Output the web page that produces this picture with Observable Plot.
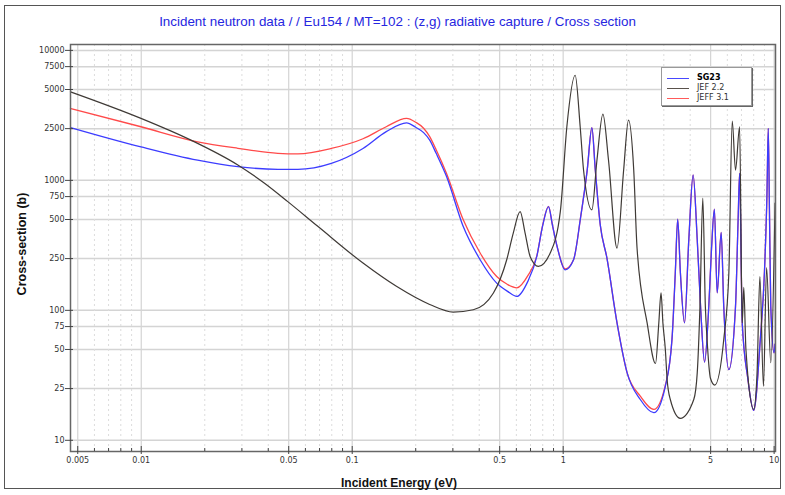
<!DOCTYPE html>
<html>
<head>
<meta charset="utf-8">
<script src="https://cdn.jsdelivr.net/npm/d3@7"></script>
<script src="https://cdn.jsdelivr.net/npm/@observablehq/plot@0.6"></script>
<style>
  html, body { margin: 0; padding: 0; background: #fff; }
  #wrap { position: relative; width: 785px; height: 495px; overflow: hidden; background: #fff; }
  #border { position: absolute; left: 4px; top: 5px; width: 777px; height: 484px; border: 1px solid #555; box-sizing: border-box; }
  #title { position: absolute; left: 0; width: 795px; top: 14px; text-align: center; font-family: "Liberation Sans", Arial, sans-serif; font-size: 13.4px; color: #2626e0; }
  #xlabel { position: absolute; left: 0; width: 798px; top: 476px; text-align: center; font-family: "Liberation Sans", Arial, sans-serif; font-weight: bold; font-size: 12px; color: #111; }
  #ylabel { position: absolute; left: 22px; top: 244px; transform: translate(-50%, -50%) rotate(-90deg); white-space: nowrap; font-family: "Liberation Sans", Arial, sans-serif; font-weight: bold; font-size: 12.5px; color: #111; }
  #legend { position: absolute; left: 661px; top: 67px; width: 91px; height: 39px; border: 1px solid #999; box-shadow: 1px 1px 0 #666; background: #fff; box-sizing: border-box; font-family: "DejaVu Sans", sans-serif; font-size: 8px; }
  .row { position: absolute; left: 0; height: 10px; }
  .sw { position: absolute; left: 5px; width: 22px; top: 5px; height: 0; border-top: 1.5px solid; }
  .lt { position: absolute; left: 35px; top: 0; line-height: 10px; color: #333; white-space: nowrap; }
</style>
</head>
<body>
<div id="wrap">
  <div id="border"></div>
  <div id="title">Incident neutron data / / Eu154 / MT=102 : (z,g) radiative capture / Cross section</div>
  <div id="chart"></div>
  <div id="xlabel">Incident Energy (eV)</div>
  <div id="ylabel">Cross-section (b)</div>
  <div id="legend">
    <div class="row" style="top:5px"><div class="sw" style="border-color:#4848ff"></div><div class="lt" style="font-weight:bold;color:#000">SG23</div></div>
    <div class="row" style="top:15px"><div class="sw" style="border-color:#5a524c"></div><div class="lt">JEF 2.2</div></div>
    <div class="row" style="top:25px"><div class="sw" style="border-color:#ff5a5a"></div><div class="lt">JEFF 3.1</div></div>
  </div>
</div>
<script>
// ---- Tick values ----
const xMajor = [0.005, 0.01, 0.05, 0.1, 0.5, 1, 5, 10];
const xMinor = [0.006, 0.007, 0.008, 0.009, 0.02, 0.03, 0.04, 0.06, 0.07, 0.08, 0.09,
                0.2, 0.3, 0.4, 0.6, 0.7, 0.8, 0.9, 2, 3, 4, 6, 7, 8, 9];
const yTicks = [10, 25, 50, 75, 100, 250, 500, 750, 1000, 2500, 5000, 7500, 10000];

// ---- SG23 (blue) ----
const sg23E = [0.00462, 0.00997, 0.0185, 0.0287, 0.0444, 0.0553, 0.0796, 0.1125, 0.145, 0.181, 0.2, 0.218, 0.233, 0.25, 0.28, 0.336,
  0.404, 0.484, 0.545, 0.603, 0.68, 0.75, 0.80, 0.852, 0.89, 0.936, 1.022, 1.12, 1.208, 1.30, 1.368, 1.42, 1.50, 1.61,
  1.80, 2.01, 2.32, 2.69, 3.05, 3.28, 3.40, 3.49, 3.595, 3.76, 3.94, 4.13, 4.32, 4.48, 4.68, 4.90, 5.05, 5.21, 5.37,
  5.61, 5.77, 6.10, 6.56, 6.75, 6.86, 7.06, 7.5, 8.0, 8.6, 9.0, 9.25, 9.38, 9.5, 9.64, 9.99, 10.1];
const sg23S = [2550, 1810, 1430, 1275, 1215, 1215, 1350, 1760, 2370, 2770, 2560, 2330, 2040, 1614, 1070, 441,
  245, 162, 140, 128, 167, 260, 450, 628, 450, 310, 205, 245, 512, 1200, 2540, 1200, 450, 255,
  80, 33, 20.6, 16.3, 26, 60, 194, 503, 194, 80, 349, 1100, 349, 107, 40, 107, 300, 600, 136,
  397, 107, 35, 107, 500, 1133, 80, 30, 17, 60, 200, 800, 2510, 600, 107, 47, 55];

// ---- JEFF 3.1 (red) ----
const jeff31E = [0.00462, 0.00997, 0.0185, 0.0287, 0.0444, 0.0553, 0.0796, 0.1125, 0.145, 0.181, 0.2, 0.218, 0.233, 0.25, 0.28, 0.336,
  0.404, 0.484, 0.545, 0.603, 0.68, 0.75, 0.80, 0.852, 0.89, 0.936, 1.022, 1.12, 1.208, 1.30, 1.368, 1.42, 1.50, 1.61,
  1.80, 2.01, 2.32, 2.69, 3.05, 3.28, 3.40, 3.49, 3.595, 3.76, 3.94, 4.13, 4.32, 4.48, 4.68, 4.90, 5.05, 5.21, 5.37,
  5.61, 5.77, 6.10, 6.56, 6.75, 6.86, 7.06, 7.5, 8.0, 8.6, 9.0, 9.25, 9.38, 9.5, 9.64, 9.99, 10.1];
const jeff31S = [3570, 2585, 1980, 1765, 1615, 1600, 1760, 2090, 2585, 3000, 2800, 2520, 2170, 1720, 1130, 497,
  276, 182, 158, 149, 185, 262, 455, 630, 450, 310, 208, 245, 512, 1200, 2540, 1200, 450, 255,
  80, 33, 21.9, 17.3, 26.5, 60, 194, 503, 194, 80, 349, 1100, 349, 107, 40, 107, 300, 600, 136,
  397, 107, 35, 107, 500, 1133, 80, 30, 17, 60, 200, 800, 2510, 600, 107, 47, 55];

// ---- JEF 2.2 (dark grey) ----
const jef22E = [0.00462, 0.00997, 0.0172, 0.0287, 0.0384, 0.0495, 0.0689, 0.1125, 0.162, 0.233, 0.301, 0.375,
  0.467, 0.54, 0.58, 0.625, 0.66, 0.697, 0.763, 0.868, 0.97, 1.041, 1.14, 1.204, 1.249, 1.368, 1.446, 1.543, 1.64, 1.80,
  1.935, 2.04, 2.16, 2.24, 2.50, 2.74, 2.84, 2.91, 2.97, 3.05, 3.11, 3.22, 3.59, 4.16, 4.32, 4.45, 4.59, 4.72, 4.81, 4.99,
  5.23, 5.77, 6.10, 6.33, 6.56, 6.86, 7.06, 7.18, 7.35, 8.0, 8.3, 8.56, 8.9, 9.21, 9.64, 10.1];
const jef22S = [4800, 3000, 2040, 1313, 950, 686, 441, 231, 153, 111, 97, 101,
  136, 245, 393, 575, 393, 260, 218, 276, 580, 2585, 6440, 2585, 1202, 593, 1434, 3233, 1434, 301,
  1202, 2908, 1202, 300, 80, 39, 80, 136, 80, 50, 29.4, 20.6, 14.75, 20.6, 33, 107, 729, 107, 59.6, 30,
  26.6, 59.6, 194, 2857, 1200, 2585, 80, 150, 50, 17.3, 33, 182, 26, 213, 39.5, 667];

const toRows = (E, S) => E.map((e, i) => ({E: e, s: S[i]}));
const sg23 = toRows(sg23E, sg23S);
const jeff31 = toRows(jeff31E, jeff31S);
const jef22 = toRows(jef22E, jef22S);

const fmt = d => String(d);

const chart = Plot.plot({
  width: 785,
  height: 495,
  marginLeft: 70,
  marginRight: 10,
  marginTop: 44,
  marginBottom: 44,
  style: {fontFamily: "DejaVu Sans, sans-serif", fontSize: "8px", color: "#333", background: "transparent"},
  x: {type: "log", domain: [0.00462, 10.15], label: null, axis: null},
  y: {type: "log", domain: [8.2, 11100], label: null, axis: null},
  marks: [
    Plot.gridY(yTicks, {stroke: "#d4d4d4", strokeOpacity: 1, strokeWidth: 1.5}),
    Plot.gridX(xMajor, {stroke: "#d4d4d4", strokeOpacity: 1, strokeWidth: 1.2}),
    Plot.gridX(xMinor, {stroke: "#dcdcdc", strokeOpacity: 1, strokeDasharray: "2,3"}),
    Plot.line(jeff31, {x: "E", y: "s", stroke: "#ff4a4a", strokeWidth: 1.3, curve: "monotone-x"}),
    Plot.line(sg23, {x: "E", y: "s", stroke: "#3c3cff", strokeWidth: 1.3, curve: "monotone-x"}),
    Plot.line(jef22, {x: "E", y: "s", stroke: "#3f3a36", strokeWidth: 1.2, curve: "monotone-x"}),
    Plot.frame({stroke: "#666", strokeWidth: 1.5}),
    Plot.axisX(xMajor, {tickSize: 8, dy: -5, text: null, stroke: "#444"}),
    Plot.axisX(xMinor, {tickSize: 3, dy: -3, text: null, stroke: "#444"}),
    Plot.text(xMajor, {x: d => d, frameAnchor: "bottom", dy: 11, text: fmt, fill: "#333", fontSize: 8}),
    Plot.axisY(yTicks, {tickSize: 8, dx: 3, text: null, stroke: "#444"}),
    Plot.text(yTicks, {y: d => d, frameAnchor: "left", dx: -6, textAnchor: "end", text: fmt, fill: "#333", fontSize: 8})
  ]
});
chart.style.position = "absolute";
chart.style.left = "0px";
chart.style.top = "0px";
document.getElementById("chart").appendChild(chart);
</script>
</body>
</html>
